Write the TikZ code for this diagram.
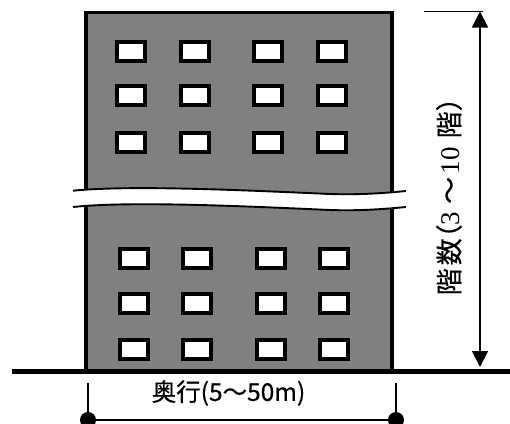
\documentclass[tikz,border=0pt]{standalone}
\usepackage{fontspec}
\newfontfamily\cjk[FakeBold=0.5]{Noto Sans CJK JP}
\newfontfamily\ser{Liberation Serif}
\usetikzlibrary{arrows.meta}
\tikzset{
  x=1pt,y=-1pt,
  windowbox/.style={draw=black,fill=white,line width=4pt,minimum width=28pt,minimum height=19pt,inner sep=0pt,outer sep=0pt},
  dimline/.style={line width=1.8pt,draw=black},
  dimarrow/.style={dimline,-{Triangle[length=16pt,width=16pt]}},
  dot/.style={circle,fill=black,minimum size=16pt,inner sep=0pt,outer sep=0pt},
  breakline/.style={line width=1.9pt,draw=black},
}
\begin{document}
\begin{tikzpicture}
\useasboundingbox (0,0) rectangle (510,423);
\clip (0,0) rectangle (510,423);
\fill[white] (0,0) rectangle (510,423);
% building
\draw[line width=3.8pt,fill=black!50] (86,12.5) rectangle (392,371);
% break
\fill[white] (73,190.7) .. controls (130,185) and (240,190) .. (330,194) .. controls (360,195) and (385,193) .. (406,191)
  -- (406,207) .. controls (385,209) and (360,211) .. (330,210) .. controls (240,206) and (130,201) .. (73,207) -- cycle;
\draw[breakline] (73,190.7) .. controls (130,185) and (240,190) .. (330,194) .. controls (360,195) and (385,193) .. (406,191);
\draw[breakline] (73,207) .. controls (130,201) and (240,206) .. (330,210) .. controls (360,211) and (385,209) .. (406,207);
% windows upper
\foreach \yy/\r in {51.5/a,95/b,142.5/c}
  \foreach \xx/\c in {131/1,195/2,268/3,331.5/4}
    \node[windowbox] (u\r\c) at (\xx,\yy) {};
% windows lower
\foreach \yy/\r in {258.5/a,303/b,349.5/c}
  \foreach \xx/\c in {134/1,197/2,270.5/3,333.5/4}
    \node[windowbox] (l\r\c) at (\xx,\yy) {};
% ground
\coordinate (gl) at (12,371);
\coordinate (gr) at (510,371);
\draw[line width=5pt] (gl) -- (gr);
% height dimension
\coordinate (hl) at (424,11.5);
\coordinate (ht) at (480,11.5);
\coordinate (hr) at (483,11.5);
\coordinate (hb) at (480,367);
\coordinate (hm) at (480,190);
\draw[dimline] (hl) -- (hr);
\draw[dimarrow] (hm) -- (ht);
\draw[dimarrow] (hm) -- (hb);
\node[rotate=90,inner sep=0pt,font=\fontsize{27}{27}\selectfont,anchor=west] (htext) at (449,295.5)
  {\cjk 階\hspace{3pt}数\hspace{-13pt}（\hspace{-1pt}\ser 3\hspace{8pt}\cjk ～\hspace{2.5pt}\ser 10\hspace{9pt}\cjk 階）};
% width dimension
\node[dot] (dl) at (88,420) {};
\node[dot] (dr) at (396,420) {};
\coordinate (tl) at (88,383);
\coordinate (tr) at (396,383);
\draw[dimline] (tl) -- (dl);
\draw[dimline] (tr) -- (dr);
\draw[dimline] (dl) -- (dr);
\node[inner sep=0pt,font=\fontsize{24.5}{24.5}\selectfont\cjk] (wtext) at (228.5,393) {奥行(5～50m)};
\end{tikzpicture}
\end{document}
